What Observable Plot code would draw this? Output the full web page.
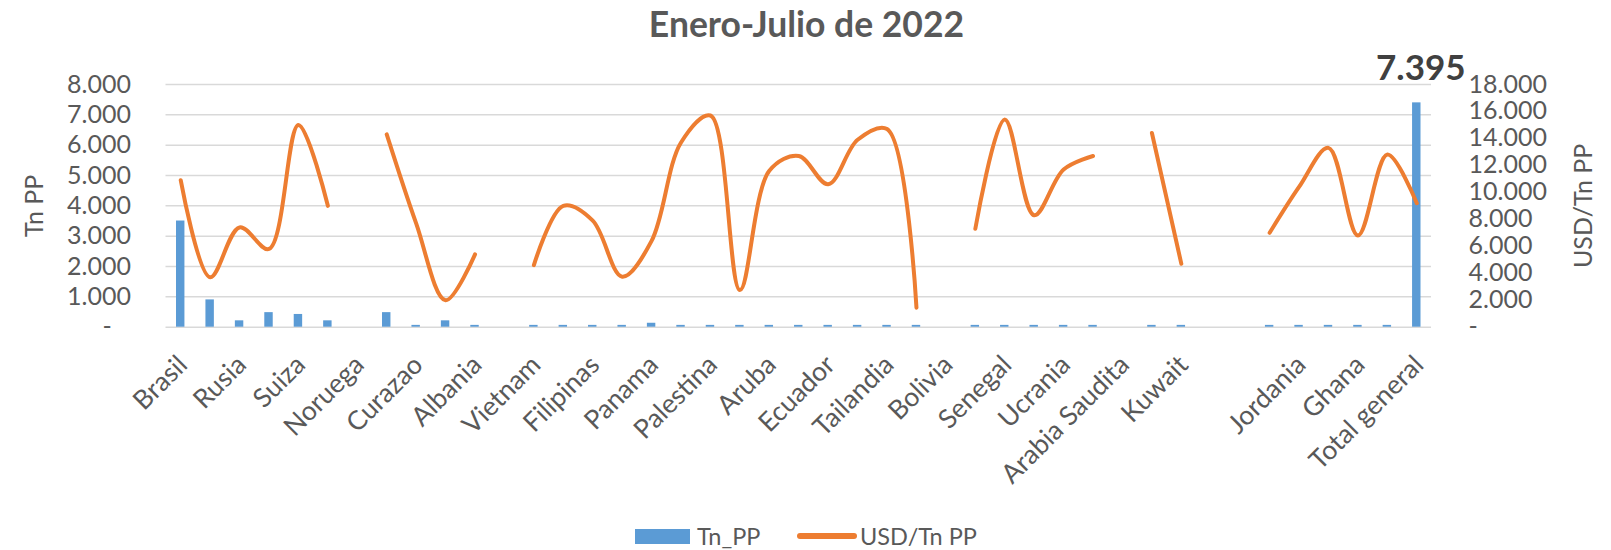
<!DOCTYPE html>
<html>
<head>
<meta charset="utf-8">
<script src="https://cdn.jsdelivr.net/npm/d3@7"></script>
<script src="https://cdn.jsdelivr.net/npm/@observablehq/plot@0.6"></script>
<style>
  html, body { margin: 0; padding: 0; background: #fff; }
  body { width: 1611px; height: 550px; overflow: hidden; font-family: Lato, sans-serif; color: #595959; }
  #title { height: 45px; line-height: 48px; text-align: center; font-weight: bold; font-size: 35.5px; color: #595959; white-space: nowrap; padding-left: 2px; }
  #chart { height: 455px; }
  #legend { height: 50px; position: relative; font-size: 23.5px; color: #595959; }
  #legend .sw { position: absolute; left: 635px; top: 29px; width: 55px; height: 15px; background: #5b9bd5; }
  #legend .ln { position: absolute; left: 797px; top: 33px; width: 60px; height: 6px; border-radius: 3px; background: #ed7d31; }
  #legend .t1 { position: absolute; left: 697px; top: 22px; line-height: 28px; }
  #legend .t2 { position: absolute; left: 860px; top: 22px; line-height: 28px; }
</style>
</head>
<body>
<div id="title">Enero-Julio de 2022</div>
<div id="chart"></div>
<div id="legend"><span class="sw"></span><span class="t1">Tn_PP</span><span class="ln"></span><span class="t2">USD/Tn PP</span></div>
<script>
// Categories (only every other one is labelled in the original; unlabelled ones are "")
const categories = [
  "Brasil", "", "Rusia", "", "Suiza", "", "Noruega", "", "Curazao", "", "Albania", "",
  "Vietnam", "", "Filipinas", "", "Panama", "", "Palestina", "", "Aruba", "", "Ecuador", "",
  "Tailandia", "", "Bolivia", "", "Senegal", "", "Ucrania", "", "Arabia Saudita", "", "Kuwait", "",
  "", "", "Jordania", "", "Ghana", "", "Total general"
];
// Tn_PP (left axis)
const tnPP = [
  3500, 900, 210, 480, 420, 210, null, 480, 60, 210, 60, null,
  60, 60, 60, 60, 130, 60, 60, 60, 60, 60, 60, 60,
  60, 60, null, 60, 60, 60, 60, 60, null, 60, 60, null,
  null, 60, 60, 60, 60, 60, 7395
];
// USD/Tn PP (right axis)
const usdPerTn = [
  10900, 3700, 7400, 5800, 15000, 9000, null, 14300, 7700, 2000, 5400, null,
  4600, 9000, 7900, 3750, 6400, 13700, 15700, 2750, 11600, 12700, 10600, 13900,
  14700, 1450, null, 7300, 15400, 8300, 11700, 12700, null, 14400, 4700, null,
  null, 7000, 10400, 13300, 6800, 12800, 9200
];
const leftTicks = [0, 1000, 2000, 3000, 4000, 5000, 6000, 7000, 8000];
const rightTicks = [0, 2000, 4000, 6000, 8000, 10000, 12000, 14000, 16000, 18000];
const labelledTotal = "Total general";

const tnMax = 8000, usdMax = 18000;
const k = tnMax / usdMax;
const loc = d3.formatLocale({decimal: ",", thousands: ".", grouping: [3], currency: ["", ""]});
const fmtInt = loc.format(",.0f");
const fmt = v => v === 0 ? "-" : fmtInt(v);

const rows = categories.map((c, i) => ({i, label: c, tn: tnPP[i], usd: usdPerTn[i]}));

const chart = Plot.plot({
  width: 1611,
  height: 455,
  marginTop: 39,
  marginBottom: 173.3,
  marginLeft: 165.5,
  marginRight: 180,
  style: {fontFamily: "Lato, sans-serif", fontSize: "25px", color: "#595959", background: "white", overflow: "visible"},
  x: {type: "band", domain: rows.map(d => d.i), padding: 0, round: false, axis: null},
  y: {domain: [0, tnMax], ticks: leftTicks, tickFormat: v => v === 0 ? "-\u00a0\u00a0\u00a0" : fmtInt(v), tickSize: 0, tickPadding: 35, label: null},
  marks: [
    Plot.ruleY(leftTicks, {stroke: "#d9d9d9", strokeWidth: 1.5}),
    Plot.barY(rows.filter(d => d.tn != null), {x: "i", y: "tn", fill: "#5b9bd5", insetLeft: 10.5, insetRight: 10.5}),
    Plot.line(rows, {x: "i", y: d => d.usd == null ? NaN : d.usd * k, stroke: "#ed7d31", strokeWidth: 4, strokeLinecap: "round", curve: "catmull-rom"}),
    Plot.text(rows.filter(d => d.label), {x: "i", frameAnchor: "bottom", text: "label", rotate: -45, textAnchor: "end", lineAnchor: "top", fontSize: 26.5, dx: -5, dy: 26, fill: "#595959"}),
    Plot.text(rightTicks, {y: v => v * k, text: fmt, frameAnchor: "right", textAnchor: "start", dx: 37, fill: "#595959"}),
    Plot.text(["Tn PP"], {frameAnchor: "left", text: d => d, rotate: -90, textAnchor: "middle", lineAnchor: "middle", dx: -131, fill: "#595959"}),
    Plot.text(["USD/Tn PP"], {frameAnchor: "right", text: d => d, rotate: -90, textAnchor: "middle", lineAnchor: "middle", dx: 152, fill: "#595959"}),
    Plot.text(rows.filter(d => d.label === labelledTotal), {x: "i", y: "tn", text: d => fmt(d.tn), fontWeight: "bold", fontSize: 35, fill: "#404040", textAnchor: "middle", dx: 4, dy: -34})
  ]
});
document.getElementById("chart").appendChild(chart);
</script>
</body>
</html>
